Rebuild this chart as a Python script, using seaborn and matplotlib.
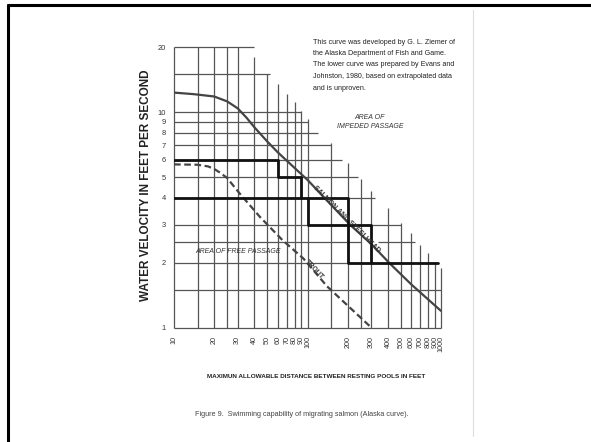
import matplotlib
matplotlib.use("Agg")
import matplotlib.pyplot as plt
import matplotlib.transforms as mtransforms
import seaborn as sns
import pandas as pd
from matplotlib.lines import Line2D

# ---------------- data ----------------
salmon_x = [10, 14, 20, 25, 30, 35, 40, 50, 60, 90, 100, 150, 209, 300, 410, 600, 1000]
salmon_y = [12.3, 12.1, 11.8, 11.2, 10.4, 9.4, 8.5, 7.3, 6.5, 5.15, 4.85, 3.72, 3.0, 2.45, 2.0, 1.59, 1.2]

trout_x = [10, 15, 18, 20, 22, 25, 31, 44, 65, 93, 140, 200, 303]
trout_y = [5.72, 5.7, 5.6, 5.45, 5.25, 4.95, 4.2, 3.27, 2.55, 2.1, 1.56, 1.27, 1.0]

# bold staircase (design criteria) polylines
step_a_x = [10, 60, 60, 90, 90]
step_a_y = [6, 6, 5, 5, 4]
step_b_x = [10, 200, 200, 950]
step_b_y = [4, 4, 2, 2]
step_c_x = [100, 100, 300, 300]
step_c_y = [4, 3, 3, 2]

# staircase-bounded grid: horizontal lines (y, x start, x end)
hgrid_y = [1, 1.5, 2, 2.5, 2.5, 3, 4, 5, 6, 7, 8, 9, 10, 15, 20]
hgrid_x0 = [10, 10, 10, 10, 340, 10, 10, 10, 10, 10, 10, 10, 10, 10, 10]
hgrid_x1 = [1000, 1000, 950, 250, 640, 500, 320, 240, 180, 150, 120, 100, 90, 52, 40]
# vertical lines (x, y top)
vgrid_x = [10, 15, 20, 25, 30, 40, 50, 60, 70, 80, 90, 100, 150, 200, 250, 300,
           400, 500, 600, 700, 800, 900, 1000]
vgrid_top = [20, 20, 20, 20, 20, 18, 15, 13.5, 12.1, 11.1, 10.1, 9.3, 7.2, 5.8, 4.9, 4.3,
             3.6, 3.05, 2.75, 2.42, 2.22, 2.02, 1.9]

xtick_vals = [10, 20, 30, 40, 50, 60, 70, 80, 90, 100, 200, 300, 400, 500, 600, 700, 800, 900, 1000]
ytick_vals = [1, 2, 3, 4, 5, 6, 7, 8, 9, 10, 20]

note_lines = ["This curve was developed by G. L. Ziemer of",
              "the Alaska Department of Fish and Game.",
              "The lower curve was prepared by Evans and",
              "Johnston, 1980, based on extrapolated data",
              "and is unproven."]

# ---------------- figure ----------------
sns.set_style("white")
plt.rcParams["font.family"] = ["Liberation Sans", "DejaVu Sans"]

fig = plt.figure(figsize=(5.91, 4.42), dpi=100)
ax = fig.add_axes([174 / 591, 1 - 328 / 442, (441 - 174) / 591, (328 - 47) / 442])
ax.set_xscale("log")
ax.set_yscale("log")
ax.set_xlim(10, 1000)
ax.set_ylim(1, 20)
for s in ax.spines.values():
    s.set_visible(False)

gc = "#555555"
ax.hlines(hgrid_y, hgrid_x0, hgrid_x1, color=gc, lw=0.9, clip_on=False, zorder=1)
ax.vlines(vgrid_x, [1] * len(vgrid_x), vgrid_top, color=gc, lw=0.9, clip_on=False, zorder=1)

sal = pd.DataFrame({"x": salmon_x, "y": salmon_y})
tro = pd.DataFrame({"x": trout_x, "y": trout_y})
sns.lineplot(data=sal, x="x", y="y", ax=ax, color="#444444", lw=1.6, sort=False, zorder=3)
sns.lineplot(data=tro, x="x", y="y", ax=ax, color="#444444", lw=1.6, sort=False,
             linestyle=(0, (3, 1.6)), zorder=3)
for sx, sy in [(step_a_x, step_a_y), (step_b_x, step_b_y), (step_c_x, step_c_y)]:
    sns.lineplot(x=sx, y=sy, ax=ax, color="#111111", lw=2.0, sort=False, zorder=4,
                 estimator=None)
ax.set_xlabel("")
ax.set_ylabel("")

ax.set_xticks(xtick_vals)
ax.set_xticklabels([str(v) for v in xtick_vals], rotation=90, fontsize=5.2, color="#333333")
ax.set_yticks(ytick_vals)
ax.set_yticklabels([str(v) for v in ytick_vals], fontsize=5.4, color="#333333")
ax.minorticks_off()
ax.tick_params(axis="both", length=0)
ax.tick_params(axis="x", pad=6)
ax.tick_params(axis="y", pad=6)

# in-plot labels (offset to the lower-right side of each curve)
off = mtransforms.offset_copy(ax.transData, fig=fig, x=4.5, y=-4.5, units="dots")
ax.text(180, 3.34, "SALMON AND STEELHEAD", rotation=-45, fontsize=5.0, fontweight="bold",
        color="#333333", ha="center", va="center", rotation_mode="anchor", transform=off,
        zorder=5)
off2 = mtransforms.offset_copy(ax.transData, fig=fig, x=4.0, y=-4.0, units="dots")
ax.text(104, 1.94, "TROUT", rotation=-47, fontsize=5.0, fontweight="bold",
        color="#333333", ha="center", va="center", rotation_mode="anchor", transform=off2,
        zorder=5)
ax.text(30.2, 2.25, "AREA OF FREE PASSAGE", fontsize=5.0, style="italic",
        color="#333333", ha="center", va="center")
ax.text(294, 9.0, "AREA OF\nIMPEDED PASSAGE", fontsize=5.0, style="italic",
        color="#333333", ha="center", va="center", linespacing=1.5)

# figure-level text
W, H = 591, 442
for i, line in enumerate(note_lines):
    fig.text(313 / W, 1 - (42 + i * 11.5) / H, line, fontsize=5.1, color="#222222",
             ha="left", va="center")
fig.text(146 / W, 1 - 185 / H, "WATER VELOCITY IN FEET PER SECOND", rotation=90,
         fontsize=8.5, fontweight="bold", color="#222222", ha="center", va="center")
fig.text(316 / W, 1 - 376 / H, "MAXIMUN ALLOWABLE DISTANCE BETWEEN RESTING POOLS IN FEET",
         fontsize=4.6, fontweight="bold", color="#222222", ha="center", va="center")
fig.text(302 / W, 1 - 414 / H,
         "Figure 9.  Swimming capability of migrating salmon (Alaska curve).",
         fontsize=5.25, color="#444444", ha="center", va="center")

# page frame
fig.add_artist(Line2D([8 / W, 1.0], [1 - 5 / H, 1 - 5 / H], color="black", lw=2.2))
fig.add_artist(Line2D([8 / W, 8 / W], [0, 1 - 5 / H], color="black", lw=2.2))
fig.add_artist(Line2D([473 / W, 473 / W], [1 - 436 / H, 1 - 10 / H], color="#dddddd", lw=0.8))

fig.savefig("out.png", dpi=100)
